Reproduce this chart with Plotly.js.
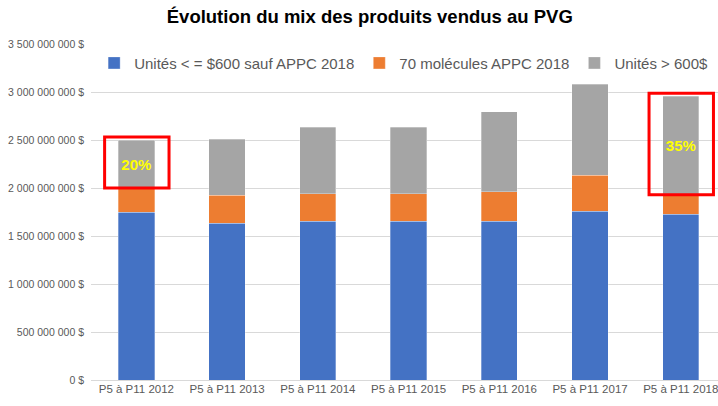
<!DOCTYPE html>
<html>
<head>
<meta charset="utf-8">
<script src="https://cdn.plot.ly/plotly-3.0.1.min.js"></script>
<style>html,body{margin:0;padding:0;background:#fff;}#chart{width:718px;height:406px;}</style>
</head>
<body>
<div id="chart"></div>
<script>
const categories = ["P5 à P11 2012","P5 à P11 2013","P5 à P11 2014","P5 à P11 2015","P5 à P11 2016","P5 à P11 2017","P5 à P11 2018"];
const seriesNames = ["Unités < = $600 sauf APPC 2018","70 molécules APPC 2018","Unités > 600$"];
const unitsLow = [1750e6,1632e6,1653e6,1653e6,1653e6,1760e6,1726e6];
const molecules70 = [250e6,295e6,288e6,288e6,309e6,372e6,204e6];
const unitsHigh = [500e6,580e6,694e6,694e6,833e6,951e6,1028e6];
const pctLabels = ["20%","","","","","","35%"];
const highlighted = [0,6];

const colors = ["#4472C4","#ED7D31","#A5A5A5"];
const fam = "Liberation Sans, Arial, sans-serif";

const traces = [unitsLow, molecules70, unitsHigh].map((vals,i)=>({
  type:"bar", x:categories, y:vals, name:seriesNames[i],
  marker:{color:colors[i], line:{color:"rgba(255,255,255,0.6)", width:0.5}},
  hoverinfo:"skip"
}));
traces[2].text = pctLabels;
traces[2].textposition = "inside";
traces[2].insidetextanchor = "middle";
traces[2].textfont = {color:"#FFFF00", size:15, family:fam, weight:"bold"};

const shapes = highlighted.map(i=>{
  const base = unitsLow[i]+molecules70[i];
  const top = base+unitsHigh[i];
  return {type:"rect", xref:"x", yref:"y",
    x0:i-0.35, x1:i+0.36,
    y0:base, y1:top+30e6,
    line:{color:"#FF0000", width:3}, fillcolor:"rgba(0,0,0,0)"};
});

const layout = {
  width:718, height:406,
  margin:{l:91, r:0, t:44, b:26},
  paper_bgcolor:"#fff", plot_bgcolor:"#fff",
  barmode:"stack", bargap:0.6,
  separators:". ",
  title:{text:"Évolution du mix des produits vendus au PVG", x:0.515, xanchor:"center", y:0.96, yanchor:"middle", xref:"container", yref:"container",
    font:{family:fam, size:18.5, color:"#000", weight:"bold"}},
  xaxis:{range:[-0.5,6.41], tickfont:{family:fam, size:11.5, color:"#595959"}, showline:false, showgrid:false, ticks:"", fixedrange:true},
  yaxis:{range:[0,3.5e9], dtick:500e6, tickformat:",.0f", ticksuffix:" $", tickfont:{family:fam, size:10.5, color:"#595959"},
    gridcolor:"#D9D9D9", gridwidth:1, zeroline:true, zerolinecolor:"#D9D9D9", zerolinewidth:1, showline:false, ticks:"", ticklabelstandoff:6},
  legend:{orientation:"h", x:0.005, xanchor:"left", y:0.943, yanchor:"middle", font:{family:fam, size:15, color:"#595959"}, bgcolor:"rgba(0,0,0,0)", traceorder:"normal", itemwidth:30},
  shapes:shapes,
  showlegend:true
};
Plotly.newPlot("chart", traces, layout, {displayModeBar:false, staticPlot:true});
</script>
</body>
</html>
